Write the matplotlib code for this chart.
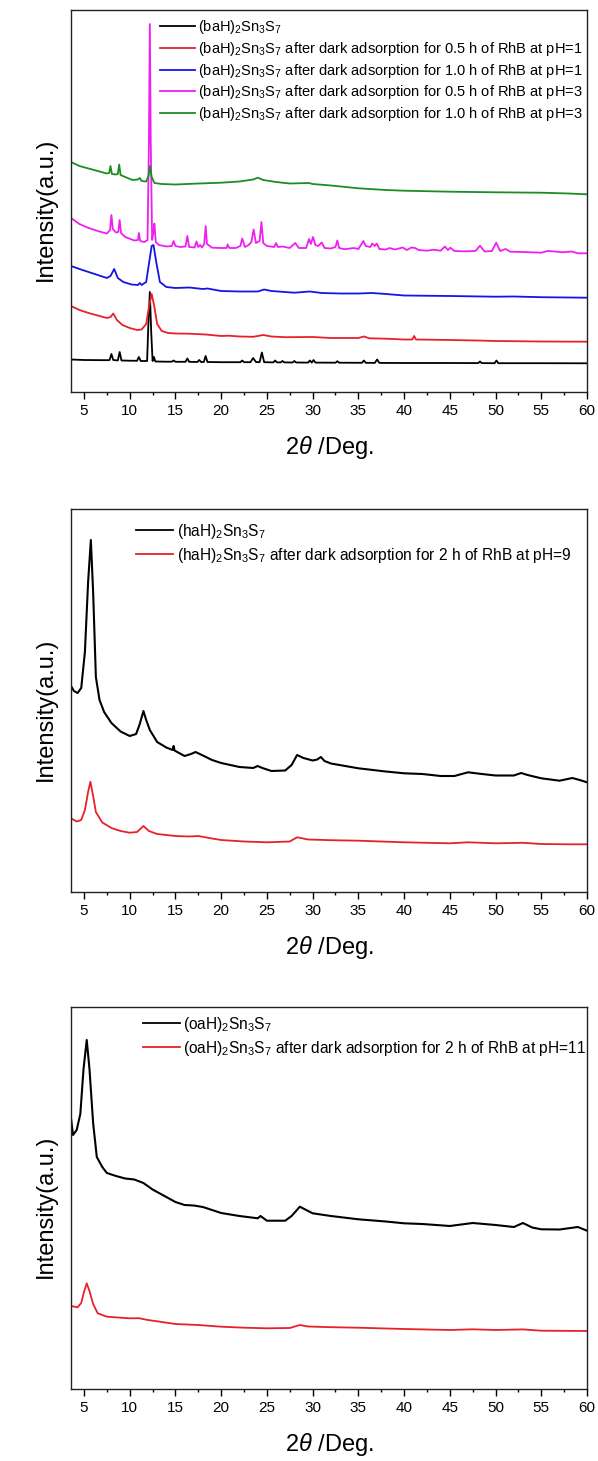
import matplotlib
matplotlib.use("Agg")
import matplotlib.pyplot as plt
from matplotlib.ticker import MultipleLocator

plt.rcParams['font.family'] = ['Liberation Sans', 'DejaVu Sans']
plt.rcParams['mathtext.fontset'] = 'custom'
plt.rcParams['mathtext.rm'] = 'Liberation Sans'
plt.rcParams['mathtext.it'] = 'Liberation Sans:italic'
plt.rcParams['mathtext.bf'] = 'Liberation Sans:bold'

# ---------------- data (2theta in deg, intensity in a.u.) ----------------
# Panel 1: (baH)2Sn3S7
ba_pristine = [(3.58, 32.5), (5, 32), (7.5, 31.8), (7.8, 32), (8.0, 38), (8.2, 32), (8.7, 31.5), (8.9, 40),
               (9.1, 31.5), (10, 31.3), (10.8, 31.2), (11.0, 35), (11.2, 31), (11.9, 31), (12.05, 70), (12.2, 100),
               (12.35, 60), (12.5, 31), (12.65, 35), (12.8, 30.5), (14, 30.3), (14.6, 30.3), (14.8, 31.5),
               (15.0, 30.2), (16.1, 30.2), (16.3, 33.5), (16.5, 30.2), (17.4, 30), (17.6, 32), (17.8, 30),
               (18.1, 30), (18.3, 36), (18.5, 30), (20, 29.8), (22.1, 29.8), (22.3, 31.5), (22.5, 29.8),
               (23.2, 29.8), (23.5, 34), (23.8, 30), (24.2, 29.8), (24.45, 39.5), (24.7, 29.8), (25.7, 29.6),
               (25.9, 31.5), (26.1, 29.6), (26.5, 29.6), (26.7, 31), (26.9, 29.6), (27.8, 29.5), (28.0, 31),
               (28.2, 29.5), (29.5, 29.4), (29.7, 31.5), (29.9, 29.4), (30.1, 32), (30.3, 29.4), (32.5, 29.3),
               (32.7, 30.8), (32.9, 29.3), (35.4, 29.2), (35.6, 31.5), (35.8, 29.2), (36.8, 29.1), (37.05, 32.5),
               (37.3, 29.1), (40, 29), (41, 29), (45, 29), (48.1, 28.9), (48.3, 30.5), (48.5, 28.9), (49.9, 28.8),
               (50.1, 31.5), (50.3, 28.8), (55, 28.8), (60, 28.7)]
ba_05h_ph1 = [(3.58, 86), (4.5, 82), (5.5, 79), (6.5, 76.5), (7.5, 74), (7.9, 75), (8.2, 78.5), (8.6, 72),
              (9.2, 67), (10, 64), (10.8, 62), (11.3, 62.5), (11.8, 68), (12.1, 85), (12.4, 98), (12.7, 85),
              (13.0, 68), (13.5, 61), (14.2, 59), (15, 58.5), (16.5, 58.3), (18.3, 57.5), (20, 56), (20.8, 56.3),
              (22, 55.5), (23.5, 55.2), (24.6, 57), (25.5, 55.5), (27, 54.8), (30, 55), (32, 54), (35, 54),
              (35.6, 55.5), (36.2, 53.7), (38, 53.3), (40, 52.5), (40.9, 52.5), (41.1, 56), (41.3, 52.5),
              (45, 52), (48, 51.5), (50, 51), (55, 50.5), (60, 50.3)]
ba_10h_ph1 = [(3.58, 126), (4.5, 123), (5.5, 120), (6.5, 117), (7.5, 114), (7.9, 116), (8.3, 123), (8.7, 114),
              (9.3, 110), (10.2, 107.5), (10.9, 107), (11.1, 109), (11.3, 107), (11.8, 110), (12.1, 128),
              (12.4, 146), (12.6, 147), (12.9, 130), (13.3, 110), (14, 105), (15, 104), (16.5, 104.5), (18, 103),
              (18.5, 103.5), (20, 101), (22, 100.5), (24, 100.5), (24.7, 102.5), (25.5, 101), (28, 99.3),
              (29.7, 100.5), (31, 99), (33, 98.5), (35, 98.5), (36.5, 99), (38, 98), (40, 96.5), (45, 96),
              (50, 95.3), (52, 95.5), (55, 94.8), (60, 94.3)]
ba_05h_ph3 = [(3.58, 174), (4.5, 168), (5.5, 164), (6.5, 161), (7.5, 158.5), (7.85, 162), (8.0, 177), (8.15, 163),
              (8.5, 159.5), (8.75, 160), (8.9, 172), (9.05, 159), (9.5, 155), (10.5, 151.5), (10.9, 152),
              (11.0, 159), (11.15, 151), (11.6, 150), (11.95, 152), (12.1, 250), (12.2, 368), (12.3, 250),
              (12.45, 152), (12.6, 160), (12.7, 168.5), (12.85, 150), (13.2, 147), (14, 145.5), (14.6, 146),
              (14.8, 151), (15.0, 146), (15.5, 145), (16.1, 145.5), (16.3, 156), (16.5, 145), (17.1, 144.5),
              (17.3, 150.5), (17.5, 145), (17.7, 147), (17.9, 144.5), (18.15, 148), (18.3, 166), (18.45, 148),
              (19, 144.3), (20, 144), (20.6, 144), (20.7, 147.5), (20.9, 144), (21.6, 144), (22.1, 146),
              (22.3, 153.5), (22.6, 145), (23, 147), (23.3, 150), (23.55, 162.5), (23.8, 149), (24.2, 151),
              (24.4, 170), (24.6, 149), (25, 146), (25.8, 145), (26.0, 149), (26.2, 145), (26.7, 145.5),
              (27.5, 144), (28.1, 149), (28.5, 144), (29.3, 144), (29.6, 153), (29.8, 148), (30.05, 155),
              (30.3, 147), (30.6, 146), (31.0, 149.5), (31.3, 144), (32, 143.5), (32.5, 145), (32.7, 151.5),
              (32.9, 144), (33.5, 142.8), (34.5, 144), (35.0, 143), (35.55, 151), (35.8, 146), (36.3, 145),
              (36.5, 148.5), (36.8, 146), (37.0, 148.5), (37.3, 143), (38, 142.5), (38.4, 144), (39, 142.5),
              (39.85, 144.5), (40.3, 142), (40.8, 144.5), (41.2, 144), (41.6, 142), (42.5, 141.3), (43.2, 142.3),
              (44, 141.3), (44.45, 145.5), (44.8, 142), (45.06, 144.3), (45.5, 141), (46.5, 140.7), (47.8, 141),
              (48.3, 146.3), (48.8, 140.5), (49.6, 141), (50.07, 149.3), (50.5, 141), (51.1, 143), (51.6, 140.3),
              (53, 140), (55, 139.3), (55.7, 141), (56.5, 140.5), (57.3, 139.7), (58.3, 140.5), (59, 138.7),
              (60, 138.7)]
ba_10h_ph3 = [(3.58, 230), (4.5, 226), (5.5, 223.5), (6.5, 221), (7.5, 218.5), (7.75, 219), (7.9, 226), (8.05, 218),
              (8.5, 217.5), (8.7, 218), (8.85, 227.5), (9.0, 217), (9.5, 215), (10.3, 212), (10.9, 212.5),
              (11.1, 214), (11.3, 211), (11.8, 210.5), (12.05, 216), (12.2, 226), (12.4, 215), (12.7, 209),
              (13.5, 208), (15, 207.5), (17, 208.3), (20, 209.3), (22, 210.5), (23.5, 212.5), (24, 214.3),
              (24.6, 212), (26, 210), (27.5, 208.5), (29.6, 209), (30, 208), (32, 206.5), (35, 203.7), (38, 202),
              (40, 201.3), (45, 200.3), (50, 199.7), (55, 199.3), (58, 198.5), (60, 197.7)]

# Panel 2: (haH)2Sn3S7
ha_pristine = [(3.58, 206), (3.9, 201), (4.3, 199), (4.7, 204), (5.1, 240), (5.45, 310), (5.75, 352), (6.0, 300),
               (6.3, 215), (6.7, 192), (7.2, 180), (8, 169), (9, 160.5), (10, 156), (10.7, 158), (11.1, 168),
               (11.5, 181), (11.8, 172), (12.2, 162), (13, 150), (14, 144.5), (14.7, 142), (14.8, 146),
               (14.9, 141.5), (16, 136), (16.7, 138), (17.2, 140), (18, 136.5), (19, 132), (20, 129), (22, 125),
               (23.5, 124), (24, 126), (24.5, 124), (25.5, 121), (27, 121.5), (27.7, 127), (28.3, 137), (29, 134),
               (30, 131.5), (30.5, 132.5), (30.9, 135), (31.3, 131), (32, 128.5), (35, 123.7), (38, 120.5),
               (40, 118.7), (42, 118), (44, 116), (45.5, 116), (47, 119.7), (48.5, 118), (50, 116.5), (52, 116.5),
               (52.8, 119), (53.5, 117), (55, 113.7), (57, 111.3), (58.4, 114), (59.2, 112), (60, 109.7)]
ha_2h_ph9 = [(3.58, 73.7), (4.2, 70.5), (4.7, 72), (5.1, 82), (5.45, 100), (5.7, 110.3), (6.0, 96), (6.3, 80),
             (7, 69.5), (8, 64), (9, 61), (10, 59.3), (10.8, 60), (11.5, 66), (12.1, 61), (13, 58), (15, 56),
             (16.5, 55.5), (17.5, 56), (19, 53.5), (20, 52), (22.5, 50.5), (25, 49.7), (27.5, 50.5), (28.3, 54.7),
             (29.5, 52.5), (32, 51.8), (35, 51.3), (40, 49.7), (45, 48.7), (47, 49.7), (50, 48.7), (53, 49.2),
             (55, 48), (58, 47.7), (60, 47.7)]

# Panel 3: (oaH)2Sn3S7
oa_pristine = [(3.58, 270.7), (3.8, 254), (4.2, 259), (4.6, 275), (4.95, 320), (5.3, 349), (5.6, 320), (6.0, 266),
               (6.4, 232), (7, 222), (7.5, 216), (8.5, 213), (9.5, 210.5), (10.5, 209.5), (11.5, 206), (12.5, 199.5),
               (13, 197), (14, 192), (15, 187), (16, 184), (17, 183.5), (18, 182), (19, 179), (20, 176), (22, 173),
               (24, 170.7), (24.3, 173), (25, 168.3), (27, 168.3), (27.7, 173), (28.6, 182.3), (29.3, 179),
               (30, 175.7), (32, 173), (35, 169.7), (38, 167.5), (40, 165.7), (42, 165), (45, 163), (47.5, 166),
               (50, 164), (52, 162), (53, 166), (54, 161.5), (55, 159.7), (57, 159.5), (59, 162), (60, 158.3)]
oa_2h_ph11 = [(3.58, 83), (4.3, 81.7), (4.7, 86), (5.0, 97), (5.3, 105.7), (5.6, 98), (6.0, 85), (6.5, 75.7),
              (7.5, 72.3), (9, 71.3), (10, 70.7), (11, 70.8), (12, 69), (13.5, 67), (15, 65), (17.5, 64),
              (20, 62.3), (22.5, 61.3), (25, 60.7), (27.5, 61), (28.6, 64), (29.5, 62.5), (32, 61.8), (35, 61.3),
              (40, 60), (45, 59), (47.5, 59.7), (50, 59), (53, 59.6), (55, 58.3), (60, 58)]

labels1 = [r'(baH)$_2$Sn$_3$S$_7$',
           r'(baH)$_2$Sn$_3$S$_7$ after dark adsorption for 0.5 h of RhB at pH=1',
           r'(baH)$_2$Sn$_3$S$_7$ after dark adsorption for 1.0 h of RhB at pH=1',
           r'(baH)$_2$Sn$_3$S$_7$ after dark adsorption for 0.5 h of RhB at pH=3',
           r'(baH)$_2$Sn$_3$S$_7$ after dark adsorption for 1.0 h of RhB at pH=3']
labels2 = [r'(haH)$_2$Sn$_3$S$_7$',
           r'(haH)$_2$Sn$_3$S$_7$ after dark adsorption for 2 h of RhB at pH=9']
labels3 = [r'(oaH)$_2$Sn$_3$S$_7$',
           r'(oaH)$_2$Sn$_3$S$_7$ after dark adsorption for 2 h of RhB at pH=11']

BLACK, RED, BLUE, MAGENTA, GREEN = '#000000', '#e8202a', '#1414e6', '#f01ef0', '#1c8c24'

W, H = 598, 1461
fig = plt.figure(figsize=(W / 100, H / 100), dpi=100)


def px_axes(top, bottom, left=71, right=587):
    return fig.add_axes([left / W, 1 - bottom / H, (right - left) / W, (bottom - top) / H])


panels = [
    dict(top=10, bottom=392, series=[ba_pristine, ba_05h_ph1, ba_10h_ph1, ba_05h_ph3, ba_10h_ph3],
         colors=[BLACK, RED, BLUE, MAGENTA, GREEN], labels=labels1, lfs=10.5, lx=0.1725, ly=0.978, lsp=0.25),
    dict(top=509, bottom=892, series=[ha_pristine, ha_2h_ph9],
         colors=[BLACK, RED], labels=labels2, lfs=11.2, lx=0.126, ly=0.967, lsp=0.33),
    dict(top=1007, bottom=1389, series=[oa_pristine, oa_2h_ph11],
         colors=[BLACK, RED], labels=labels3, lfs=11.2, lx=0.139, ly=0.980, lsp=0.33),
]

for i, p in enumerate(panels):
    ax = px_axes(p['top'], p['bottom'])
    hgt = p['bottom'] - p['top']
    for j, (s, c, lab) in enumerate(zip(p['series'], p['colors'], p['labels'])):
        xs, ys = zip(*s)
        lw = 1.5 if (i > 0 and j == 0) else 1.3
        ax.plot(xs, ys, color=c, lw=lw, label=lab, solid_joinstyle='round')
    ax.set_xlim(3.58, 60)
    ax.set_ylim(0, hgt)
    ax.xaxis.set_major_locator(MultipleLocator(5))
    ax.xaxis.set_minor_locator(MultipleLocator(2.5))
    ax.tick_params(axis='x', which='major', direction='out', length=4.8, width=1.0, labelsize=11, pad=4,
                   top=False)
    ax.tick_params(axis='x', which='minor', direction='out', length=2.5, width=1.0, top=False)
    ax.tick_params(axis='y', which='both', left=False, right=False, labelleft=False)
    for sp in ax.spines.values():
        sp.set_linewidth(1.0)
        sp.set_color('#222222')
    ax.set_xlabel(r'$\mathit{2\theta}$ /Deg.', fontsize=17)
    ax.xaxis.set_label_coords(0.5, -0.11)
    ax.set_ylabel('Intensity(a.u.)', fontsize=17)
    ax.yaxis.set_label_coords(-0.028, 0.478)
    leg = ax.legend(loc='upper left', bbox_to_anchor=(p['lx'], p['ly']), frameon=False,
                    fontsize=p['lfs'], handlelength=2.4, handletextpad=0.22, borderpad=0,
                    borderaxespad=0, labelspacing=p['lsp'])
    for h in leg.get_lines():
        h.set_linewidth(1.3)

fig.savefig('out.png', dpi=100)
